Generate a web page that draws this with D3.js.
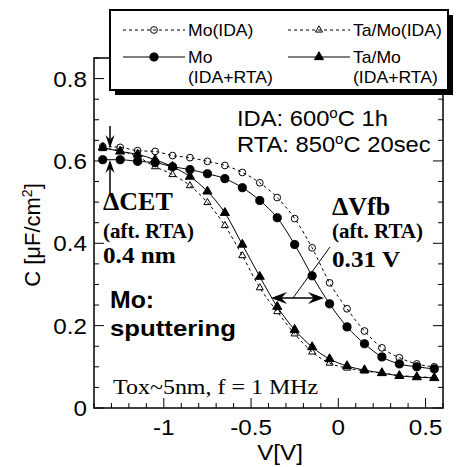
<!DOCTYPE html>
<html>
<head>
<meta charset="utf-8">
<script src="https://cdn.jsdelivr.net/npm/d3@7"></script>
<style>
  body { margin: 0; background: #fff; }
  svg { display: block; }
  text { fill: #000; }
</style>
</head>
<body>
<div id="chart"></div>
<script>
var chart_width = 464,
    chart_height = 467;

// gate voltage, V
var volts = [-1.35, -1.25, -1.15, -1.05, -0.95, -0.85, -0.75, -0.65, -0.55, -0.45,
             -0.35, -0.25, -0.15, -0.05, 0.05, 0.15, 0.25, 0.35, 0.45, 0.55];

// capacitance, uF/cm2
var mo_ida     = [0.635, 0.633, 0.625, 0.623, 0.613, 0.608, 0.599, 0.589, 0.572, 0.547,
                  0.511, 0.460, 0.389, 0.304, 0.241, 0.187, 0.146, 0.122, 0.107, 0.100];
var mo_rta     = [0.603, 0.603, 0.599, 0.596, 0.586, 0.579, 0.569, 0.557, 0.535, 0.504,
                  0.462, 0.397, 0.321, 0.253, 0.197, 0.156, 0.124, 0.107, 0.100, 0.095];
var tamo_ida   = [0.630, 0.625, 0.610, 0.586, 0.567, 0.540, 0.499, 0.443, 0.370, 0.292,
                  0.234, 0.180, 0.136, 0.109, 0.097, 0.090, 0.085, 0.079, 0.076, 0.074];
var tamo_rta   = [0.633, 0.623, 0.616, 0.603, 0.586, 0.562, 0.526, 0.474, 0.397, 0.319,
                  0.246, 0.190, 0.148, 0.119, 0.102, 0.092, 0.085, 0.078, 0.075, 0.073];

var x_ticks = [-1, -0.5, 0, 0.5];
var y_ticks = [0, 0.2, 0.4, 0.6, 0.8];

var series = [
    { name: 'Mo(IDA)', sub: '', values: mo_ida, dashed: true, shape: 'circle', filled: false },
    { name: 'Mo', sub: '(IDA+RTA)', values: mo_rta, dashed: false, shape: 'circle', filled: true },
    { name: 'Ta/Mo(IDA)', sub: '', values: tamo_ida, dashed: true, shape: 'triangle', filled: false },
    { name: 'Ta/Mo', sub: '(IDA+RTA)', values: tamo_rta, dashed: false, shape: 'triangle', filled: true }
];

var margin = { left: 94, right: 21, top: 58, bottom: 59 };
var width = chart_width - margin.left - margin.right,
    height = chart_height - margin.top - margin.bottom;

var x = d3.scaleLinear().domain([-1.4, 0.6]).range([0, width]);
var y = d3.scaleLinear().domain([0, 0.85]).range([height, 0]);

var svg = d3.select('#chart').append('svg')
    .attr('width', chart_width)
    .attr('height', chart_height)
    .style('font-family', 'Arial, "Liberation Sans", sans-serif');

var SERIF = '"Liberation Serif", "Times New Roman", serif';

// text placed at (px,py), a bit wider than the font (the scan is stretched)
function label(parent, px, py, size, sx) {
    return parent.append('text')
        .attr('transform', 'translate(' + px + ',' + py + ') scale(' + (sx || 1.1) + ',1)')
        .style('font-size', size + 'px');
}

var g = svg.append('g').attr('transform', 'translate(' + margin.left + ',' + margin.top + ')');

// frame
g.append('rect')
    .attr('width', width).attr('height', height)
    .attr('fill', 'none').attr('stroke', '#000').attr('stroke-width', 1.5);

// inward ticks
var xMinor = d3.range(-14, 7).map(function (d) { return d / 10; });
var yMinor = d3.range(0, 18).map(function (d) { return d * 0.05; });

function isMajor(v, step) { return Math.abs(v / step - Math.round(v / step)) < 1e-6; }

g.selectAll('.xt').data(xMinor).enter().append('line')
    .attr('x1', function (d) { return x(d); }).attr('x2', function (d) { return x(d); })
    .attr('y1', height)
    .attr('y2', function (d) { return height - (isMajor(d, 0.5) ? 10 : 5); })
    .attr('stroke', '#000').attr('stroke-width', 1);

[0, width].forEach(function (side) {
    g.selectAll(null).data(yMinor).enter().append('line')
        .attr('x1', side)
        .attr('x2', function (d) { var l = isMajor(d, 0.2) ? 10 : 5; return side === 0 ? l : side - l; })
        .attr('y1', function (d) { return y(d); }).attr('y2', function (d) { return y(d); })
        .attr('stroke', '#000').attr('stroke-width', 1);
});

x_ticks.forEach(function (d) {
    label(g, x(d), height + 27, 22).attr('text-anchor', 'middle').text(String(d));
});
y_ticks.forEach(function (d) {
    label(g, -7, y(d) + 8, 22).attr('text-anchor', 'end').text(d === 0 ? '0' : d.toFixed(1));
});

// axis titles
label(svg, 280, 460, 22).attr('text-anchor', 'middle').text('V[V]');

var yt = svg.append('text')
    .attr('transform', 'translate(40,235) rotate(-90)')
    .attr('text-anchor', 'middle')
    .style('font-size', '22px');
yt.append('tspan').text('C [\u03BCF/cm');
yt.append('tspan').attr('dy', -8).style('font-size', '14px').text('2');
yt.append('tspan').attr('dy', 8).text(']');

// curves
var line = d3.line()
    .x(function (d) { return x(d[0]); })
    .y(function (d) { return y(d[1]); })
    .curve(d3.curveMonotoneX);

function symbolPath(s) {
    if (s.shape === 'circle') return d3.symbol(d3.symbolCircle, s.filled ? 52 : 36)();
    return d3.symbol(d3.symbolTriangle, s.filled ? 36 : 22)();
}

series.forEach(function (s) {
    var pts = volts.map(function (v, i) { return [v, s.values[i]]; });
    g.append('path')
        .attr('d', line(pts))
        .attr('fill', 'none')
        .attr('stroke', '#000')
        .attr('stroke-width', 1)
        .attr('stroke-dasharray', s.dashed ? '3,3' : null);
});

series.forEach(function (s) {
    var pts = volts.map(function (v, i) { return [v, s.values[i]]; });
    g.selectAll(null).data(pts).enter().append('path')
        .attr('transform', function (d) { return 'translate(' + x(d[0]) + ',' + y(d[1]) + ')'; })
        .attr('d', symbolPath(s))
        .attr('fill', s.filled ? '#000' : 'none')
        .attr('stroke', '#000')
        .attr('stroke-width', 1);
});

// annotations
function arrowHead(sel, px, py, dir, a, b) {
    var p;
    if (dir === 'down') p = [[px, py], [px - b, py - a], [px, py - a * 0.65], [px + b, py - a]];
    if (dir === 'up') p = [[px, py], [px - b, py + a], [px, py + a * 0.65], [px + b, py + a]];
    if (dir === 'left') p = [[px, py], [px + a, py - b], [px + a * 0.65, py], [px + a, py + b]];
    if (dir === 'right') p = [[px, py], [px - a, py - b], [px - a * 0.65, py], [px - a, py + b]];
    sel.append('path').attr('d', 'M' + p.join('L') + 'Z').attr('fill', '#000');
}

var ann = svg.append('g');
ann.append('line').attr('x1', 110).attr('x2', 110).attr('y1', 126).attr('y2', 140)
    .attr('stroke', '#000').attr('stroke-width', 1.5);
arrowHead(ann, 110, 148, 'down', 13, 4.5);
ann.append('line').attr('x1', 110).attr('x2', 110).attr('y1', 168).attr('y2', 193)
    .attr('stroke', '#000').attr('stroke-width', 1.5);
arrowHead(ann, 110, 160, 'up', 13, 4.5);

ann.append('line').attr('x1', 280).attr('x2', 315).attr('y1', 298).attr('y2', 298)
    .attr('stroke', '#000').attr('stroke-width', 1.5);
arrowHead(ann, 271, 298, 'left', 16, 6);
arrowHead(ann, 324, 298, 'right', 16, 6);
ann.append('line').attr('x1', 293).attr('y1', 298).attr('x2', 330).attr('y2', 247)
    .attr('stroke', '#000').attr('stroke-width', 1);

function serif(txt, px, py, size, sx) {
    return label(ann, px, py, size, sx)
        .style('font-family', SERIF)
        .style('font-weight', 'bold')
        .text(txt);
}
serif('\u0394CET', 103, 210, 26, 1);
serif('(aft. RTA)', 103, 238, 20, 1.05);
serif('0.4 nm', 103, 263, 24, 1.05);
serif('\u0394Vfb', 332, 215, 26, 1);
serif('(aft. RTA)', 332, 238, 20, 1.05);
serif('0.31 V', 332, 267, 24, 1.05);

label(ann, 110, 308, 23, 1.08).style('font-weight', 'bold').text('Mo:');
label(ann, 110, 336, 23, 1.12).style('font-weight', 'bold').text('sputtering');

label(ann, 113, 394, 22, 1.09).style('font-family', SERIF).text('Tox~5nm, f = 1 MHz');

function condition(pre, post, py) {
    var t = label(ann, 237, py, 22, 1.08);
    t.append('tspan').text(pre);
    t.append('tspan').attr('dy', -8).style('font-size', '14px').text('o');
    t.append('tspan').attr('dy', 8).text(post);
}
condition('IDA: 600', 'C 1h', 126);
condition('RTA: 850', 'C 20sec', 152);

// legend
var lg = svg.append('g').attr('transform', 'translate(110,10)');
lg.append('rect').attr('x', 5).attr('y', 5).attr('width', 338).attr('height', 80).attr('fill', '#000');
lg.append('rect').attr('width', 338).attr('height', 80)
    .attr('fill', '#fff').attr('stroke', '#000').attr('stroke-width', 2);

var legendPos = [[13, 20], [13, 47], [178, 20], [178, 47]];
series.forEach(function (s, i) {
    var p = legendPos[i];
    var it = lg.append('g').attr('transform', 'translate(' + p[0] + ',' + p[1] + ')');
    it.append('line').attr('x1', 0).attr('x2', 62)
        .attr('stroke', '#000').attr('stroke-width', 1)
        .attr('stroke-dasharray', s.dashed ? '3,3' : null);
    it.append('path').attr('transform', 'translate(31,0)')
        .attr('d', symbolPath(s))
        .attr('fill', s.filled ? '#000' : 'none')
        .attr('stroke', '#000').attr('stroke-width', 1);
    label(it, 65, 6, 16, 1.1).text(s.name);
    if (s.sub) label(it, 65, 26, 16, 1.1).text(s.sub);
});
</script>
</body>
</html>
